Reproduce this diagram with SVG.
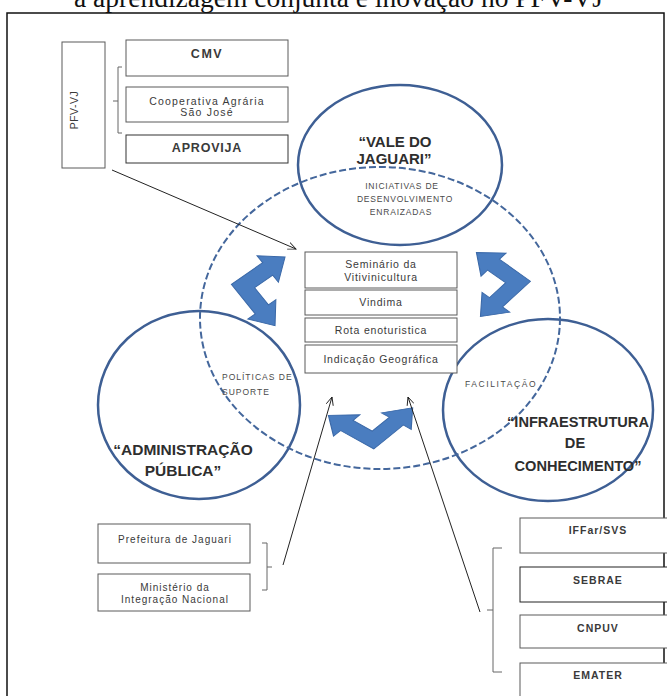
<svg xmlns="http://www.w3.org/2000/svg" width="667" height="696" viewBox="0 0 667 696">
<defs>
<style>
.box{fill:#fff;stroke:#5a5a5a;stroke-width:1}
.t{font-family:"Liberation Sans",Arial,sans-serif;fill:#3a3a3a;text-anchor:middle}
.lbl{font-family:"Liberation Sans",Arial,sans-serif;font-weight:bold;fill:#2e2e2e;text-anchor:middle;font-size:15px}
.sm{font-family:"Liberation Sans",Arial,sans-serif;fill:#4a4a4a;font-size:8.5px;letter-spacing:0.8px}
.circ{fill:none;stroke:#3e5f94;stroke-width:2.5}
.dash{fill:none;stroke:#44679c;stroke-width:2;stroke-dasharray:7 3}
.barr{fill:#4a7dc0;stroke:#3b69a8;stroke-width:1}
.ln{stroke:#222;stroke-width:1;fill:none}
.br{stroke:#666;stroke-width:1;fill:none}
</style>
<marker id="ah" viewBox="0 0 10 10" refX="9" refY="5" markerWidth="9" markerHeight="9" markerUnits="userSpaceOnUse" orient="auto">
<path d="M0,1 L9,5 L0,9" fill="none" stroke="#222" stroke-width="1"/>
</marker>
<path id="bent" d="M-8,-8 L30,-8 L30,-17 L51,0 L30,17 L30,8 L8,8 L8,30 L17,30 L0,51 L-17,30 L-8,30 Z"/>
</defs>
<rect x="0" y="0" width="667" height="696" fill="#fff"/>
<text x="74" y="7" font-family="'Liberation Serif','Times New Roman',serif" font-size="27.5" fill="#111">a aprendizagem conjunta e inovação no PFV-VJ</text>
<rect x="7" y="13" width="657" height="700" fill="none" stroke="#111" stroke-width="1.5"/>

<g id="circles">
<ellipse id="vale" class="circ" cx="400" cy="165" rx="102" ry="80"/>
<ellipse id="admin" class="circ" cx="199" cy="405" rx="101" ry="94"/>
<ellipse id="infra" class="circ" cx="548" cy="410" rx="105" ry="91"/>
<ellipse id="dashed" class="dash" cx="380" cy="318" rx="180" ry="151"/>
</g>

<g id="circle-labels">
<text class="lbl" x="395" y="147">“VALE DO</text>
<text class="lbl" x="394" y="164">JAGUARI”</text>
<text class="sm" x="402" y="189" text-anchor="middle">INICIATIVAS DE</text>
<text class="sm" x="405" y="202" text-anchor="middle">DESENVOLVIMENTO</text>
<text class="sm" x="401" y="215" text-anchor="middle">ENRAIZADAS</text>
<text class="sm" x="222" y="380" style="letter-spacing:1px">POLÍTICAS DE</text>
<text class="sm" x="222" y="395" style="letter-spacing:1px">SUPORTE</text>
<text class="sm" x="465" y="387" style="letter-spacing:1.6px">FACILITAÇÃO</text>
<text class="lbl" x="578" y="427" style="font-size:14.6px">“INFRAESTRUTURA</text>
<text class="lbl" x="575" y="448" style="font-size:14.6px">DE</text>
<text class="lbl" x="578" y="471" style="font-size:14.6px">CONHECIMENTO”</text>
<text class="lbl" x="183" y="455" style="font-size:15.5px">“ADMINISTRAÇÃO</text>
<text class="lbl" x="183" y="476" style="font-size:15.5px">PÚBLICA”</text>
</g>

<g id="blue-arrows">
<use href="#bent" class="barr" transform="matrix(0.824,-0.568,0.628,0.779,243,286)"/>
<use href="#bent" class="barr" transform="matrix(-0.815,-0.579,-0.736,0.677,518,282)"/>
<use href="#bent" class="barr" transform="matrix(-0.874,-0.485,0.777,-0.630,373,440)"/>
</g>

<g id="pfv-vj">
<rect class="box" x="62" y="42" width="43" height="126"/>
<text class="t" transform="translate(78,110) rotate(-90)" font-size="10.5" style="letter-spacing:0.5px">PFV-VJ</text>
</g>
<g id="cmv">
<rect class="box" x="126" y="40" width="162" height="36"/>
<text class="t" x="207" y="57.5" font-size="12.5" font-weight="bold" style="letter-spacing:1.5px">CMV</text>
</g>
<g id="cooperativa">
<rect class="box" x="126" y="87" width="162" height="35"/>
<text class="t" x="207" y="104.5" font-size="10.5" style="letter-spacing:1.2px">Cooperativa Agrária</text>
<text class="t" x="207" y="116" font-size="10.5" style="letter-spacing:1.2px">São José</text>
</g>
<g id="aprovija">
<rect class="box" x="126" y="135" width="162" height="28" style="stroke:#333"/>
<text class="t" x="207" y="152" font-size="12.5" font-weight="bold" style="letter-spacing:0.8px">APROVIJA</text>
</g>

<g id="seminario">
<rect class="box" x="305" y="252" width="152" height="36"/>
<text class="t" x="381" y="268" font-size="10.5" style="letter-spacing:0.8px">Seminário da</text>
<text class="t" x="381" y="281" font-size="10.5" style="letter-spacing:0.8px">Vitivinicultura</text>
</g>
<g id="vindima">
<rect class="box" x="305" y="290" width="152" height="25"/>
<text class="t" x="381" y="306" font-size="10.5" style="letter-spacing:0.8px">Vindima</text>
</g>
<g id="rota">
<rect class="box" x="305" y="318" width="152" height="24"/>
<text class="t" x="381" y="334" font-size="10.5" style="letter-spacing:0.8px">Rota enoturistica</text>
</g>
<g id="indicacao">
<rect class="box" x="305" y="345" width="152" height="28"/>
<text class="t" x="381" y="363" font-size="10.5" style="letter-spacing:0.8px">Indicação Geográfica</text>
</g>

<g id="prefeitura">
<rect class="box" x="98" y="524" width="152" height="39"/>
<text class="t" x="175" y="542.5" font-size="10" style="letter-spacing:1px">Prefeitura de Jaguari</text>
</g>
<g id="ministerio">
<rect class="box" x="98" y="574" width="152" height="37"/>
<text class="t" x="175" y="590.5" font-size="10" style="letter-spacing:1px">Ministério da</text>
<text class="t" x="175" y="603" font-size="10" style="letter-spacing:1px">Integração Nacional</text>
</g>

<g id="iffar">
<rect class="box" x="520" y="518" width="156" height="35"/>
<text class="t" x="598" y="534" font-size="10.5" font-weight="bold" style="letter-spacing:1px">IFFar/SVS</text>
</g>
<g id="sebrae">
<rect class="box" x="520" y="567" width="156" height="35" style="stroke:#222"/>
<text class="t" x="598" y="584" font-size="10.5" font-weight="bold" style="letter-spacing:1px">SEBRAE</text>
</g>
<g id="cnpuv">
<rect class="box" x="520" y="615" width="156" height="33"/>
<text class="t" x="598" y="632" font-size="10.5" font-weight="bold" style="letter-spacing:1px">CNPUV</text>
</g>
<g id="emater">
<rect class="box" x="520" y="663" width="156" height="40"/>
<text class="t" x="598" y="679" font-size="10.5" font-weight="bold" style="letter-spacing:1px">EMATER</text>
</g>

<g id="connectors">
<path class="br" d="M122,67 L118,67 L118,133 L122,133 M118,101 L113,101"/>
<path class="br" d="M262,543 L267,543 L267,590 L262,590 M267,567 L272,567"/>
<path class="br" d="M502,548 L493,548 L493,672 L502,672 M493,610 L487,610"/>
<line class="ln" x1="112" y1="170" x2="296" y2="249" marker-end="url(#ah)"/>
<line class="ln" x1="283" y1="565" x2="332" y2="397" marker-end="url(#ah)"/>
<line class="ln" x1="480" y1="612" x2="408" y2="397" marker-end="url(#ah)"/>
</g>
</svg>
